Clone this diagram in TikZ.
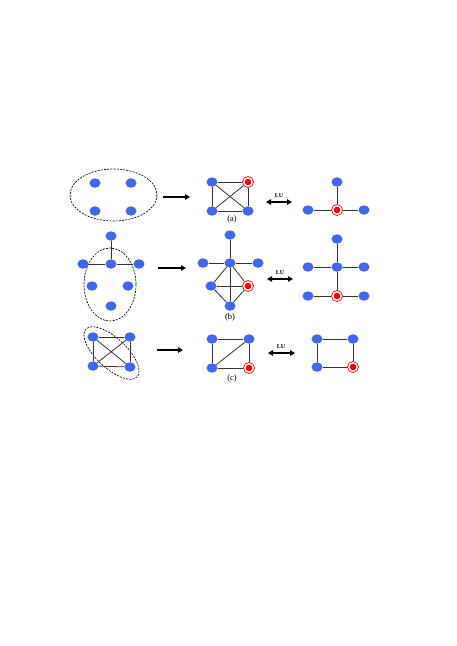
\documentclass[tikz,border=0pt]{standalone}
\usepackage{fontspec}
\setmainfont{Liberation Serif}
\usetikzlibrary{arrows.meta,shapes.geometric}
\definecolor{cV}{HTML}{4466EE}
\definecolor{cR}{HTML}{FF0000}
\definecolor{cE}{HTML}{333333}
\tikzset{
  vtx/.style={ellipse,fill=cV,minimum width=11pt,minimum height=9.5pt,inner sep=0pt},
  rvtx/.style={circle,draw=cR,fill=white,line width=0.7pt,minimum size=11pt,inner sep=0pt,
    path picture={\fill[cR] (path picture bounding box.center) circle (3.3pt);}},
  edge/.style={cE,line width=0.8pt},
  grp/.style={dash pattern=on 2pt off 1.2pt,line width=0.65pt},
  stepar/.style={-{Triangle[length=5pt,width=5.5pt]},line width=1.6pt},
  luar/.style={{Triangle[length=5pt,width=5.5pt]}-{Triangle[length=5pt,width=5.5pt]},line width=1.4pt},
  lbl/.style={font=\fontsize{8.5}{9}\selectfont},
  lu/.style={font=\fontsize{6}{6}\selectfont\bfseries},
}

\begin{document}
\begin{tikzpicture}[x=1pt,y=-1pt]
  \useasboundingbox (0,0) rectangle (457,646);
  % (a)
  \draw[grp] (113.5,195) ellipse [x radius=43.5, y radius=26];
  \node[vtx] (a1) at (95,183) {};
  \node[vtx] (a2) at (131,183) {};
  \node[vtx] (a3) at (95,211) {};
  \node[vtx] (a4) at (131,211) {};
  \coordinate (aS) at (163,197);
  \coordinate (aE) at (190,197);
  \draw[stepar] (aS) -- (aE);
  \node[vtx] (p1) at (212,182) {};
  \node[rvtx] (p2) at (248,182) {};
  \node[vtx] (p3) at (212,211) {};
  \node[vtx] (p4) at (248,211) {};
  \foreach \u/\v in {p1/p2,p1/p3,p3/p4,p2/p4,p1/p4,p2/p3}
    \draw[edge] (\u) -- (\v);
  \node[lbl] (la) at (232,219) {(a)};
  \coordinate (uaS) at (266,202);
  \coordinate (uaE) at (292,202);
  \draw[luar] (uaS) -- (uaE);
  \node[lu] (lua) at (279,196) {LU};
  \node[vtx] (t1) at (337,182) {};
  \node[rvtx] (t2) at (337,210) {};
  \node[vtx] (t3) at (308,210) {};
  \node[vtx] (t4) at (364,210) {};
  \foreach \u/\v in {t1/t2,t3/t2,t2/t4}
    \draw[edge] (\u) -- (\v);
  % (b)
  \draw[grp] (110,284.5) ellipse [x radius=26, y radius=36.5];
  \node[vtx] (b1) at (111,236) {};
  \node[vtx] (b2) at (83,264) {};
  \node[vtx] (b3) at (111,264) {};
  \node[vtx] (b4) at (139,264) {};
  \node[vtx] (b5) at (92,286) {};
  \node[vtx] (b6) at (128,286) {};
  \node[vtx] (b7) at (111,306) {};
  \foreach \u/\v in {b1/b3,b2/b3,b3/b4}
    \draw[edge] (\u) -- (\v);
  \coordinate (bS) at (158,268);
  \coordinate (bE) at (186,268);
  \draw[stepar] (bS) -- (bE);
  \node[vtx] (q1) at (230,235) {};
  \node[vtx] (q2) at (203,263) {};
  \node[vtx] (q3) at (230,263) {};
  \node[vtx] (q4) at (258,263) {};
  \node[vtx] (q5) at (211,286) {};
  \node[rvtx] (q6) at (248,286) {};
  \node[vtx] (q7) at (230,306) {};
  \foreach \u/\v in {q1/q3,q2/q3,q3/q4,q3/q5,q3/q6,q5/q7,q6/q7,q5/q6,q3/q7}
    \draw[edge] (\u) -- (\v);
  \node[lbl] (lb) at (230,317) {(b)};
  \coordinate (ubS) at (267,279);
  \coordinate (ubE) at (293,279);
  \draw[luar] (ubS) -- (ubE);
  \node[lu] (lub) at (280,273) {LU};
  \node[vtx] (r1) at (337,239) {};
  \node[vtx] (r2) at (308,267) {};
  \node[vtx] (r3) at (337,267) {};
  \node[vtx] (r4) at (364,267) {};
  \node[vtx] (r5) at (308,296) {};
  \node[rvtx] (r6) at (337,296) {};
  \node[vtx] (r7) at (364,296) {};
  \foreach \u/\v in {r1/r3,r2/r3,r3/r4,r3/r6,r5/r6,r6/r7}
    \draw[edge] (\u) -- (\v);
  % (c)
  \draw[grp,rotate around={-43:(111.5,353)}] (111.5,353) ellipse [x radius=35, y radius=15];
  \node[vtx] (c1) at (93,337) {};
  \node[vtx] (c2) at (130,337) {};
  \node[vtx] (c3) at (93,366) {};
  \node[vtx] (c4) at (130,367) {};
  \foreach \u/\v in {c1/c2,c1/c3,c3/c4,c2/c4,c1/c4,c2/c3}
    \draw[edge] (\u) -- (\v);
  \coordinate (cS) at (157,350);
  \coordinate (cE) at (183,350);
  \draw[stepar] (cS) -- (cE);
  \node[vtx] (s1) at (212,339) {};
  \node[vtx] (s2) at (249,339) {};
  \node[vtx] (s3) at (212,368) {};
  \node[rvtx] (s4) at (249,368) {};
  \foreach \u/\v in {s1/s2,s1/s3,s3/s4,s2/s4,s3/s2}
    \draw[edge] (\u) -- (\v);
  \node[lbl] (lc) at (232,378) {(c)};
  \coordinate (ucS) at (268,353);
  \coordinate (ucE) at (295,353);
  \draw[luar] (ucS) -- (ucE);
  \node[lu] (luc) at (281,347) {LU};
  \node[vtx] (w1) at (317,339) {};
  \node[vtx] (w2) at (353,339) {};
  \node[vtx] (w3) at (317,367) {};
  \node[rvtx] (w4) at (353,367) {};
  \foreach \u/\v in {w1/w2,w1/w3,w3/w4,w2/w4}
    \draw[edge] (\u) -- (\v);
\end{tikzpicture}
\end{document}
